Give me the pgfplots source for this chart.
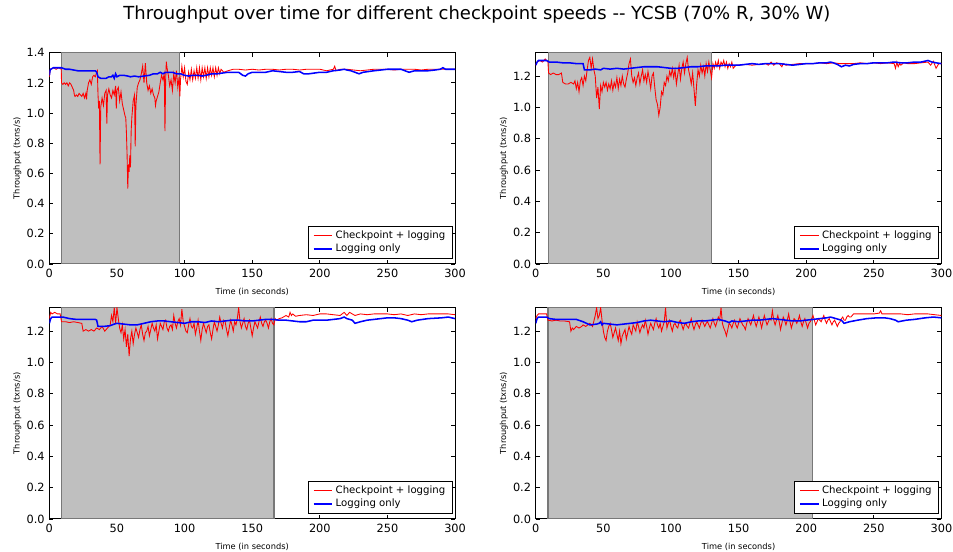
\documentclass[border=0pt]{standalone}
\usepackage{fontspec}
\setmainfont{DejaVu Sans}
\usepackage{pgfplots}
\pgfplotsset{compat=1.18}

\definecolor{shade}{RGB}{191,191,191}
\definecolor{shadeedge}{RGB}{120,120,120}

\pgfplotsset{
  panel/.style={
    scale only axis, width=304.3pt, height=158.5pt, anchor=south west,
    xmin=0, xmax=300, ymin=0,
    xtick={0,50,...,300},
    tick align=inside, major tick length=3pt,
    xtick pos=both, ytick pos=both,
    tick style={black, line width=0.6pt},
    tick label style={font=\fontsize{8.5}{10}\selectfont},
    /pgf/number format/assume math mode=true,
    yticklabel style={/pgf/number format/.cd, fixed, fixed zerofill, precision=1},
    xticklabel style={/pgf/number format/.cd, fixed, precision=0},
    scaled y ticks=false, scaled x ticks=false,
    xlabel={Time (in seconds)}, ylabel={Throughput (txns/s)},
    label style={font=\fontsize{6.2}{7}\selectfont},
    xlabel style={yshift=-1.5pt},
    ylabel style={yshift=-3pt},
    axis line style={line width=0.75pt},
    legend style={at={(1,0)}, anchor=south east, xshift=-1.5pt, yshift=4.1pt,
      font=\fontsize{7.6}{9}\selectfont, draw=black, line width=0.75pt,
      cells={anchor=west}, inner xsep=3.5pt, inner ysep=2pt, row sep=0pt,
      nodes={inner ysep=1.3pt}},
    legend image code/.code={\draw[#1] (0pt,0pt) -- (14pt,0pt);},
  },
  redline/.style={draw=red, line width=0.65pt},
  blueline/.style={draw=blue, line width=1.15pt},
  shadestyle/.style={fill=shade, draw=shadeedge, line width=1pt, forget plot},
}

\begin{document}
\begin{tikzpicture}
\path[use as bounding box] (0,0) rectangle (714.75pt,414pt);
\node[font=\fontsize{13.5}{15}\selectfont] at (357.75pt,402.75pt)
  {Throughput over time for different checkpoint speeds -{}- YCSB (70\% R, 30\% W)};

% ---------------- Top left ----------------
\begin{axis}[panel, at={(37pt,216pt)}, ymax=1.4, ytick={0,0.2,...,1.4}]
\addlegendimage{draw=red, line width=1pt}
\addlegendentry{Checkpoint + logging}
\addlegendimage{draw=blue, line width=1.3pt}
\addlegendentry{Logging only}
\addplot[shadestyle] coordinates {(9,0) (9,1.4) (96,1.4) (96,0)} --cycle;
\addplot[redline, forget plot] coordinates {
(0,1.24)(0.5,1.28)(1,1.29)(3,1.30)(5,1.29)(7,1.30)(8.8,1.29)(9,1.20)(10,1.19)(11,1.20)(12,1.19)(13,1.20)(14,1.18)(15,1.20)(16,1.19)(17,1.17)(18,1.15)(18.5,1.12)(19,1.11)(20,1.12)(21,1.11)(22,1.13)(23,1.12)(24,1.11)(25,1.13)(26,1.10)(27,1.13)(27.5,1.09)(28,1.15)(29,1.20)(30,1.22)(31,1.19)(32,1.24)(33,1.25)(34,1.24)(35,1.27)(35.5,1.28)(36,1.12)(36.5,1.03)(37,1.08)(37.5,0.66)(38,1.04)(39,1.10)(40,1.05)(41,1.13)(42,1.15)(42.5,0.93)(43,1.12)(44,1.16)(45,1.12)(46,1.10)(47,1.15)(48,1.12)(49,1.18)(49.5,1.03)(50,1.15)(51,1.17)(52,1.08)(53,1.14)(54,1.06)(55,1.02)(56,0.98)(56.5,0.97)(57,0.87)(57.5,0.72)(58,0.50)(58.5,0.66)(59,0.61)(59.5,0.72)(60,0.64)(60.5,0.88)(61,0.97)(62,1.08)(63,1.12)(63.5,0.78)(64,1.05)(65,1.17)(66,1.20)(67,1.22)(68,1.26)(69,1.31)(70,1.20)(71,1.33)(72,1.20)(73,1.15)(74,1.18)(75,1.13)(76,1.16)(77,1.12)(78,1.10)(78.5,1.05)(79,1.08)(80,1.11)(81,1.14)(82,1.20)(83,1.25)(84,1.22)(85,1.26)(85.5,0.88)(86,1.22)(86.5,1.34)(87,1.30)(88,1.25)(89,1.18)(90,1.22)(91,1.15)(92,1.26)(93,1.20)(94,1.28)(95,1.17)(96,1.24)(96.5,1.11)(97,1.22)(98,1.31)(99,1.24)(100,1.30)(101,1.21)(102,1.19)(103,1.27)(104,1.22)(105,1.29)(106,1.22)(107,1.28)(108,1.23)(109,1.30)(110,1.23)(111,1.30)(112,1.22)(113,1.30)(114,1.24)(115,1.30)(116,1.23)(117,1.30)(118,1.24)(119,1.30)(120,1.25)(121,1.30)(122,1.24)(123,1.30)(124,1.25)(125,1.30)(126,1.26)(127,1.29)(129,1.27)(132,1.28)(136,1.29)(140,1.29)(145,1.285)(150,1.29)(155,1.285)(160,1.29)(165,1.29)(170,1.285)(175,1.29)(180,1.29)(185,1.285)(190,1.29)(195,1.29)(200,1.29)(205,1.28)(210,1.29)(211,1.31)(212,1.28)(215,1.29)(220,1.29)(225,1.285)(230,1.28)(235,1.285)(240,1.29)(245,1.29)(250,1.29)(255,1.285)(260,1.29)(265,1.29)(270,1.29)(275,1.285)(280,1.29)(285,1.29)(290,1.29)(295,1.29)(300,1.29)};
\addplot[blueline, forget plot] coordinates {
(0,1.25)(0.5,1.28)(1,1.29)(3,1.30)(6,1.30)(9,1.30)(12,1.29)(15,1.29)(18,1.285)(21,1.28)(25,1.28)(30,1.28)(34,1.28)(35,1.27)(36,1.24)(38,1.23)(40,1.23)(42,1.23)(44,1.24)(46,1.24)(47,1.25)(48,1.23)(49,1.26)(50,1.24)(52,1.25)(55,1.25)(58,1.245)(60,1.24)(63,1.245)(66,1.24)(70,1.245)(74,1.25)(77,1.26)(80,1.26)(82,1.27)(84,1.26)(86,1.27)(88,1.27)(91,1.27)(94,1.26)(97,1.26)(100,1.25)(103,1.245)(106,1.25)(110,1.25)(113,1.245)(116,1.25)(120,1.26)(124,1.26)(128,1.265)(132,1.27)(136,1.27)(140,1.27)(143,1.25)(145,1.245)(147,1.26)(150,1.27)(155,1.27)(160,1.27)(165,1.28)(170,1.275)(175,1.27)(180,1.27)(185,1.275)(188,1.26)(192,1.26)(196,1.265)(200,1.27)(205,1.27)(210,1.28)(215,1.285)(218,1.29)(220,1.285)(223,1.28)(226,1.27)(229,1.26)(232,1.27)(236,1.275)(240,1.28)(245,1.285)(250,1.29)(255,1.29)(260,1.29)(263,1.28)(266,1.27)(270,1.28)(275,1.28)(280,1.28)(285,1.285)(289,1.29)(291,1.30)(293,1.29)(296,1.29)(300,1.29)};
\node[anchor=south west, inner sep=0pt, yshift=1pt, font=\fontsize{8.5}{10}\selectfont] at (rel axis cs:0,1) {1e7};
\end{axis}

% ---------------- Top right ----------------
\begin{axis}[panel, at={(401.8pt,216pt)}, ymax=1.35, ytick={0,0.2,...,1.2}]
\addlegendimage{draw=red, line width=1pt}
\addlegendentry{Checkpoint + logging}
\addlegendimage{draw=blue, line width=1.3pt}
\addlegendentry{Logging only}
\addplot[shadestyle] coordinates {(9.5,0) (9.5,1.35) (130,1.35) (130,0)} --cycle;
\addplot[redline, forget plot] coordinates {
(0,1.27)(1,1.29)(3,1.30)(5,1.29)(7,1.31)(9,1.29)(9.5,1.22)(11,1.21)(13,1.22)(15,1.21)(17,1.21)(19,1.22)(20,1.16)(22,1.15)(24,1.15)(26,1.16)(28,1.15)(29,1.17)(30,1.12)(31,1.16)(32,1.10)(33,1.17)(34,1.19)(35,1.14)(36,1.20)(37,1.17)(38,1.24)(39,1.30)(40,1.32)(41,1.25)(42,1.31)(43,1.24)(44,1.20)(45,1.06)(46,1.13)(47,0.99)(48,1.14)(49,1.10)(50,1.16)(51,1.13)(52,1.16)(53,1.11)(54,1.15)(55,1.12)(56,1.17)(57,1.11)(58,1.16)(59,1.13)(60,1.19)(61,1.12)(62,1.18)(63,1.14)(64,1.20)(65,1.15)(66,1.13)(67,1.18)(68,1.22)(69,1.28)(70,1.31)(71,1.20)(72,1.16)(73,1.19)(74,1.14)(75,1.19)(76,1.22)(77,1.15)(78,1.20)(79,1.24)(80,1.17)(81,1.21)(82,1.16)(83,1.23)(84,1.18)(85,1.12)(86,1.20)(87,1.22)(88,1.13)(89,1.05)(90,1.02)(91,0.95)(92,1.00)(93,1.10)(94,1.08)(95,1.16)(96,1.14)(97,1.20)(98,1.17)(99,1.23)(100,1.20)(101,1.25)(102,1.19)(103,1.24)(104,1.15)(105,1.21)(106,1.27)(107,1.18)(108,1.25)(109,1.29)(110,1.22)(111,1.28)(112,1.32)(113,1.24)(114,1.20)(115,1.15)(116,1.22)(117,1.12)(118,1.01)(119,1.15)(120,1.24)(121,1.20)(122,1.27)(123,1.22)(124,1.26)(125,1.20)(126,1.28)(127,1.23)(128,1.29)(129,1.24)(130,1.19)(131,1.28)(132,1.25)(133,1.29)(134,1.26)(135,1.30)(136,1.25)(137,1.29)(138,1.27)(139,1.30)(140,1.26)(141,1.29)(142,1.25)(143,1.28)(144,1.26)(145,1.29)(146,1.25)(148,1.27)(150,1.27)(155,1.275)(160,1.27)(165,1.275)(170,1.28)(172,1.27)(174,1.29)(176,1.27)(178,1.285)(180,1.28)(182,1.26)(183,1.28)(185,1.27)(190,1.275)(195,1.28)(200,1.28)(205,1.28)(210,1.285)(215,1.28)(220,1.285)(225,1.28)(230,1.28)(235,1.28)(240,1.285)(245,1.28)(250,1.285)(255,1.28)(260,1.285)(265,1.28)(266,1.25)(267,1.29)(268,1.26)(269,1.28)(270,1.27)(272,1.285)(275,1.28)(280,1.28)(285,1.285)(290,1.29)(292,1.27)(294,1.295)(296,1.25)(298,1.28)(300,1.28)};
\addplot[blueline, forget plot] coordinates {
(0,1.27)(1,1.29)(2,1.30)(5,1.30)(8,1.30)(10,1.29)(15,1.29)(20,1.285)(25,1.285)(30,1.28)(35,1.28)(36,1.24)(40,1.24)(44,1.245)(48,1.24)(50,1.25)(55,1.245)(60,1.25)(65,1.245)(70,1.25)(75,1.255)(80,1.26)(85,1.26)(90,1.26)(95,1.255)(100,1.25)(105,1.25)(110,1.255)(115,1.26)(120,1.26)(125,1.265)(130,1.265)(135,1.265)(140,1.27)(145,1.27)(150,1.27)(155,1.275)(160,1.28)(165,1.275)(170,1.28)(175,1.28)(180,1.28)(185,1.275)(190,1.27)(195,1.275)(200,1.28)(205,1.28)(210,1.285)(215,1.285)(218,1.29)(220,1.285)(223,1.275)(226,1.26)(229,1.27)(232,1.265)(235,1.275)(240,1.28)(245,1.28)(250,1.285)(255,1.285)(260,1.285)(265,1.29)(270,1.285)(275,1.285)(280,1.29)(285,1.29)(290,1.30)(293,1.29)(296,1.285)(300,1.28)};
\node[anchor=south west, inner sep=0pt, yshift=1pt, font=\fontsize{8.5}{10}\selectfont] at (rel axis cs:0,1) {1e7};
\end{axis}

% ---------------- Bottom left ----------------
\begin{axis}[panel, at={(37pt,24.75pt)}, ymax=1.35, ytick={0,0.2,...,1.2}]
\addlegendimage{draw=red, line width=1.1pt}
\addlegendentry{Checkpoint + logging}
\addlegendimage{draw=blue, line width=1.3pt}
\addlegendentry{Logging only}
\addplot[shadestyle] coordinates {(9,0) (9,1.35) (166,1.35) (166,0)} --cycle;
\addplot[redline, forget plot] coordinates {
(0,1.28)(1,1.32)(2,1.31)(4,1.32)(6,1.31)(8,1.31)(9,1.26)(12,1.26)(15,1.255)(18,1.26)(21,1.255)(24,1.25)(25,1.20)(27,1.21)(29,1.20)(31,1.21)(33,1.20)(35,1.22)(37,1.21)(39,1.23)(41,1.20)(43,1.22)(45,1.24)(46,1.30)(47,1.26)(48,1.35)(49,1.25)(50,1.35)(51,1.28)(52,1.22)(53,1.19)(54,1.24)(55,1.15)(56,1.21)(57,1.10)(58,1.18)(59,1.04)(60,1.15)(61,1.20)(62,1.12)(63,1.18)(64,1.22)(65,1.19)(66,1.16)(67,1.21)(68,1.24)(69,1.18)(70,1.14)(71,1.19)(72,1.20)(73,1.23)(74,1.17)(75,1.21)(76,1.25)(77,1.22)(78,1.20)(79,1.24)(80,1.15)(81,1.20)(82,1.25)(83,1.23)(84,1.21)(85,1.26)(86,1.27)(87,1.22)(88,1.20)(89,1.23)(90,1.24)(91,1.21)(92,1.30)(93,1.25)(94,1.22)(95,1.26)(96,1.28)(97,1.24)(98,1.34)(99,1.26)(100,1.23)(101,1.20)(102,1.19)(103,1.24)(104,1.28)(105,1.23)(106,1.22)(107,1.25)(108,1.18)(109,1.22)(110,1.27)(111,1.20)(112,1.14)(113,1.21)(114,1.25)(115,1.22)(116,1.19)(117,1.23)(118,1.24)(119,1.19)(120,1.15)(121,1.21)(122,1.26)(123,1.23)(124,1.20)(125,1.24)(126,1.29)(127,1.25)(128,1.22)(129,1.27)(130,1.26)(131,1.21)(132,1.17)(133,1.22)(134,1.27)(135,1.24)(136,1.20)(137,1.26)(138,1.24)(139,1.28)(140,1.35)(141,1.26)(142,1.22)(143,1.25)(144,1.28)(145,1.23)(146,1.21)(147,1.25)(148,1.27)(149,1.22)(150,1.17)(151,1.22)(152,1.26)(153,1.24)(154,1.22)(155,1.26)(156,1.29)(157,1.25)(158,1.23)(159,1.26)(160,1.27)(161,1.25)(162,1.22)(163,1.26)(164,1.28)(165,1.25)(166,1.24)(167,1.28)(168,1.27)(170,1.28)(172,1.285)(175,1.30)(177,1.29)(178,1.32)(179,1.30)(180,1.31)(182,1.295)(185,1.30)(190,1.305)(195,1.30)(200,1.31)(205,1.31)(210,1.305)(215,1.30)(218,1.32)(220,1.30)(222,1.32)(224,1.31)(226,1.30)(230,1.31)(235,1.305)(240,1.31)(245,1.31)(250,1.31)(255,1.305)(260,1.31)(265,1.30)(270,1.31)(275,1.305)(280,1.31)(285,1.31)(290,1.31)(295,1.31)(300,1.305)};
\addplot[blueline, forget plot] coordinates {
(0,1.25)(1,1.28)(2,1.29)(6,1.29)(10,1.29)(15,1.28)(20,1.275)(25,1.275)(30,1.275)(34,1.275)(35,1.27)(36,1.23)(40,1.23)(45,1.235)(48,1.245)(50,1.25)(55,1.245)(60,1.24)(65,1.24)(70,1.25)(75,1.26)(80,1.265)(85,1.265)(90,1.26)(95,1.255)(100,1.25)(105,1.26)(110,1.26)(115,1.255)(120,1.265)(125,1.26)(130,1.265)(135,1.27)(140,1.27)(145,1.265)(150,1.265)(155,1.27)(160,1.275)(165,1.275)(170,1.27)(175,1.27)(180,1.265)(185,1.26)(190,1.26)(195,1.27)(200,1.27)(205,1.27)(210,1.275)(215,1.28)(218,1.29)(220,1.28)(224,1.27)(226,1.25)(230,1.26)(235,1.27)(240,1.275)(245,1.28)(250,1.285)(255,1.285)(260,1.28)(265,1.27)(268,1.26)(272,1.27)(280,1.28)(290,1.285)(295,1.29)(300,1.28)};
\node[anchor=south west, inner sep=0pt, yshift=1pt, font=\fontsize{8.5}{10}\selectfont] at (rel axis cs:0,1) {1e7};
\end{axis}

% ---------------- Bottom right ----------------
\begin{axis}[panel, at={(401.8pt,24.75pt)}, ymax=1.35, ytick={0,0.2,...,1.2}]
\addlegendimage{draw=red, line width=1.1pt}
\addlegendentry{Checkpoint + logging}
\addlegendimage{draw=blue, line width=1.3pt}
\addlegendentry{Logging only}
\addplot[shadestyle] coordinates {(9,0) (9,1.35) (204.5,1.35) (204.5,0)} --cycle;
\addplot[redline, forget plot] coordinates {
(0,1.28)(1,1.30)(2,1.31)(5,1.31)(8,1.31)(9,1.27)(12,1.265)(15,1.27)(18,1.265)(21,1.265)(25,1.26)(26,1.20)(27,1.22)(28,1.21)(30,1.23)(32,1.22)(34,1.23)(35,1.24)(37,1.23)(40,1.25)(42,1.23)(44,1.30)(45,1.35)(46,1.28)(47,1.30)(48,1.35)(49,1.27)(50,1.20)(51,1.16)(52,1.14)(53,1.20)(54,1.23)(55,1.25)(56,1.21)(57,1.16)(58,1.19)(59,1.22)(60,1.18)(61,1.14)(62,1.20)(63,1.12)(64,1.17)(65,1.19)(66,1.21)(67,1.15)(68,1.19)(69,1.23)(70,1.20)(71,1.18)(72,1.24)(73,1.22)(74,1.20)(75,1.26)(76,1.23)(77,1.19)(78,1.22)(79,1.24)(80,1.22)(81,1.27)(82,1.23)(83,1.18)(84,1.22)(85,1.25)(86,1.23)(87,1.21)(88,1.25)(89,1.28)(90,1.24)(91,1.22)(92,1.25)(93,1.20)(94,1.23)(95,1.26)(96,1.35)(97,1.22)(98,1.25)(99,1.27)(100,1.23)(101,1.20)(102,1.24)(103,1.25)(104,1.23)(105,1.22)(106,1.26)(107,1.27)(108,1.24)(109,1.21)(110,1.24)(111,1.25)(112,1.23)(113,1.22)(114,1.25)(115,1.28)(116,1.24)(117,1.21)(118,1.24)(119,1.26)(120,1.24)(121,1.22)(122,1.25)(123,1.27)(124,1.25)(125,1.23)(126,1.25)(127,1.26)(128,1.24)(129,1.22)(130,1.25)(131,1.28)(132,1.25)(133,1.23)(134,1.26)(135,1.29)(136,1.27)(137,1.35)(138,1.25)(139,1.22)(140,1.20)(141,1.17)(142,1.21)(143,1.25)(144,1.24)(145,1.22)(146,1.25)(147,1.27)(148,1.24)(149,1.22)(150,1.25)(151,1.28)(152,1.26)(153,1.24)(154,1.23)(155,1.21)(156,1.25)(157,1.28)(158,1.26)(159,1.24)(160,1.27)(161,1.30)(162,1.26)(163,1.23)(164,1.26)(165,1.29)(166,1.26)(167,1.22)(168,1.26)(169,1.30)(170,1.27)(171,1.24)(172,1.26)(173,1.28)(174,1.27)(175,1.33)(176,1.27)(177,1.24)(178,1.27)(179,1.30)(180,1.26)(181,1.21)(182,1.25)(183,1.29)(184,1.27)(185,1.24)(186,1.27)(187,1.31)(188,1.26)(189,1.22)(190,1.25)(191,1.28)(192,1.27)(193,1.25)(194,1.27)(195,1.30)(196,1.26)(197,1.23)(198,1.26)(199,1.28)(200,1.25)(201,1.22)(202,1.25)(203,1.26)(204,1.28)(205,1.30)(206,1.27)(207,1.24)(208,1.26)(209,1.28)(210,1.27)(211,1.26)(212,1.28)(213,1.30)(214,1.27)(215,1.25)(216,1.27)(217,1.28)(218,1.26)(219,1.24)(220,1.26)(221,1.27)(222,1.25)(223,1.23)(224,1.25)(225,1.26)(226,1.28)(227,1.29)(228,1.27)(229,1.27)(230,1.29)(231,1.30)(232,1.29)(233,1.29)(234,1.30)(235,1.31)(240,1.31)(245,1.31)(250,1.31)(254,1.315)(255,1.33)(256,1.31)(260,1.31)(265,1.31)(270,1.31)(275,1.305)(280,1.31)(285,1.31)(290,1.31)(295,1.305)(300,1.30)};
\addplot[blueline, forget plot] coordinates {
(0,1.25)(1,1.28)(2,1.29)(5,1.29)(8,1.29)(10,1.28)(15,1.275)(20,1.275)(25,1.275)(30,1.275)(35,1.26)(40,1.24)(45,1.245)(47,1.25)(48,1.26)(49,1.24)(50,1.25)(55,1.245)(60,1.24)(65,1.245)(70,1.25)(75,1.255)(80,1.265)(85,1.27)(90,1.265)(95,1.26)(100,1.265)(105,1.255)(110,1.25)(115,1.26)(120,1.265)(125,1.265)(130,1.27)(135,1.275)(140,1.265)(143,1.255)(145,1.265)(150,1.26)(155,1.265)(160,1.27)(165,1.27)(170,1.275)(175,1.28)(180,1.275)(185,1.27)(190,1.265)(195,1.265)(200,1.27)(205,1.275)(210,1.28)(215,1.285)(218,1.29)(222,1.28)(226,1.27)(228,1.25)(232,1.26)(238,1.27)(245,1.28)(252,1.285)(258,1.285)(262,1.28)(266,1.27)(268,1.26)(274,1.27)(280,1.275)(288,1.285)(294,1.29)(300,1.285)};
\node[anchor=south west, inner sep=0pt, yshift=1pt, font=\fontsize{8.5}{10}\selectfont] at (rel axis cs:0,1) {1e7};
\end{axis}
\end{tikzpicture}
\end{document}
